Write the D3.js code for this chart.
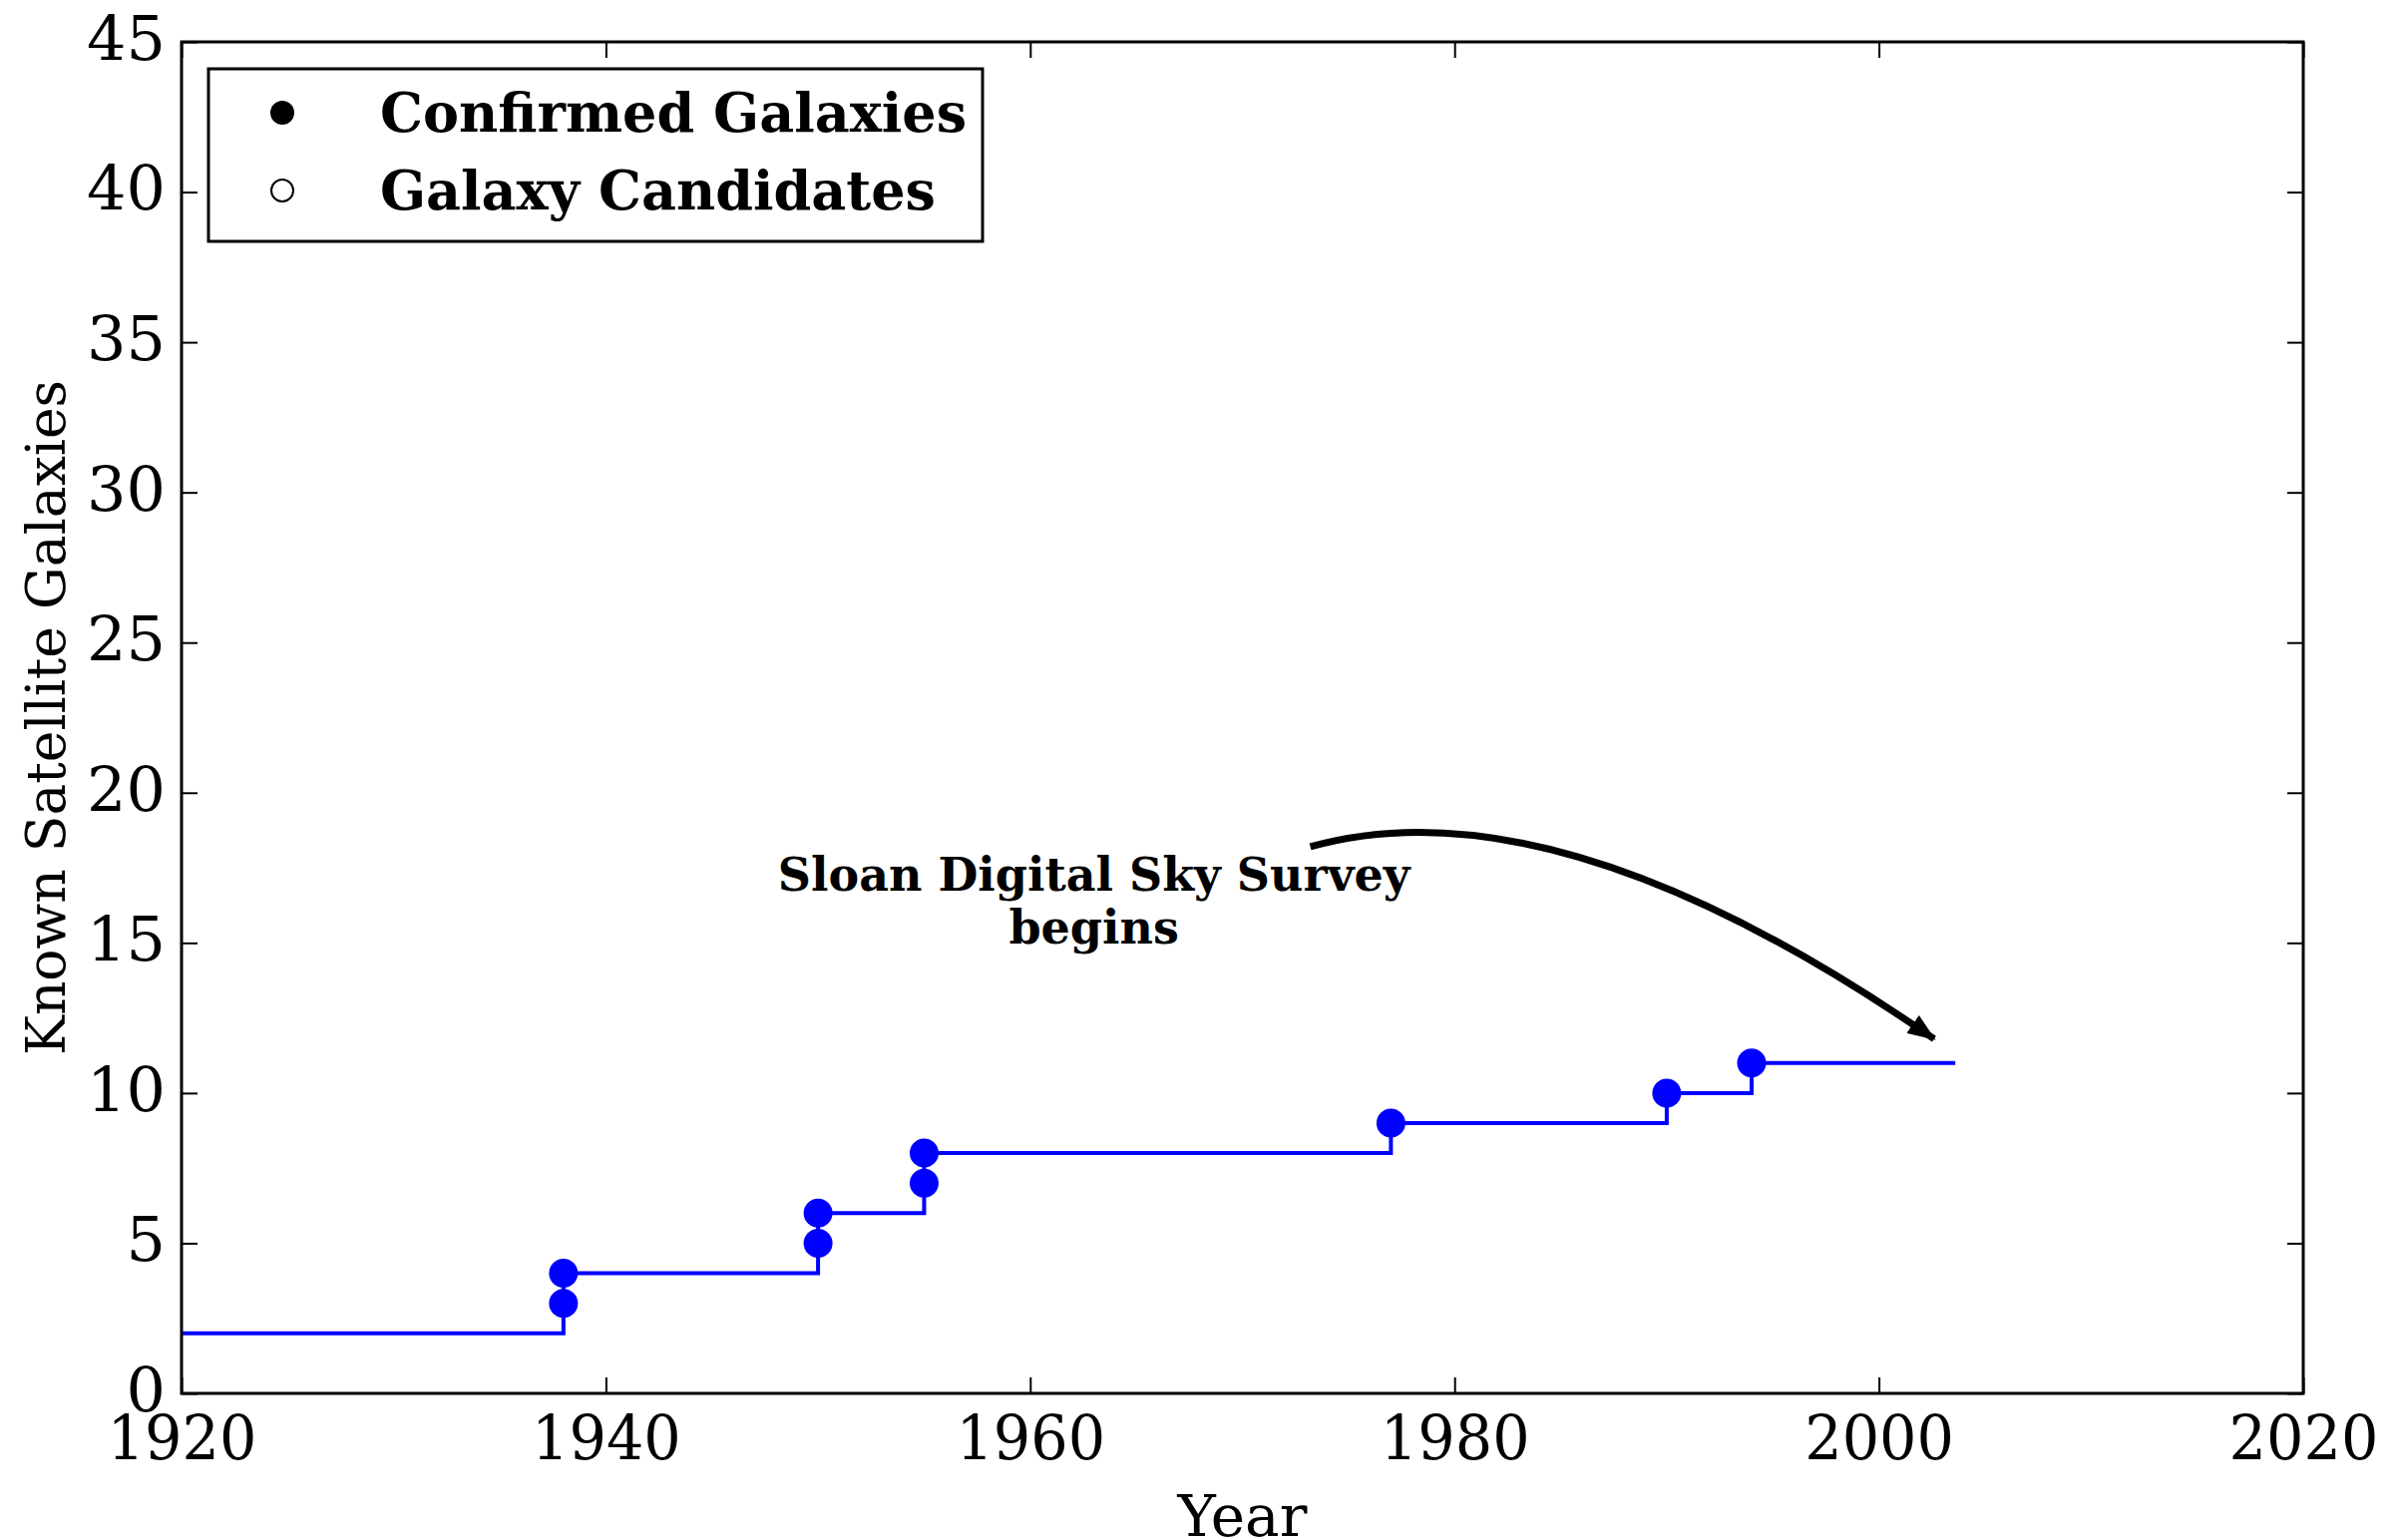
<!DOCTYPE html>
<html>
<head>
<meta charset="utf-8">
<script src="https://cdn.jsdelivr.net/npm/d3@7"></script>
<style>
  body { margin: 0; background: #fff; }
  text { font-family: "DejaVu Serif", serif; }
</style>
</head>
<body>
<div id="chart"></div>
<script>
// step line: running count of known satellites
var stepYears = [1920, 1938, 1950, 1955, 1977, 1990, 1994, 2003.6];
var stepCounts = [2, 4, 6, 8, 9, 10, 11, 11];

// discovery markers
var confirmedYears = [1938, 1938, 1950, 1950, 1955, 1955, 1977, 1990, 1994];
var confirmedCounts = [3, 4, 5, 6, 7, 8, 9, 10, 11];

var xTicks = [1920, 1940, 1960, 1980, 2000, 2020];
var yTicks = [0, 5, 10, 15, 20, 25, 30, 35, 40, 45];
var legendLabels = ["Confirmed Galaxies", "Galaxy Candidates"];
var noteLines = ["Sloan Digital Sky Survey", "begins"];

// annotation anchor points in data units: text, arrow start, bend, tip
var noteAt = [1963.0, 16.75];
var arrowFrom = [1973.2, 18.2];
var arrowBend = [1984.8, 20.5];
var arrowTo = [2002.6, 11.8];

var width = 2410, height = 1544;
var margin = {top: 42, right: 101, bottom: 147, left: 182};

var svg = d3.select("#chart").append("svg")
  .attr("width", width)
  .attr("height", height);

var x = d3.scaleLinear().domain([1920, 2020]).range([margin.left, width - margin.right]);
var y = d3.scaleLinear().domain([0, 45]).range([height - margin.bottom, margin.top]);

var defs = svg.append("defs");
defs.append("marker")
  .attr("id", "head")
  .attr("markerUnits", "userSpaceOnUse")
  .attr("viewBox", "0 0 28 22")
  .attr("refX", 26).attr("refY", 11)
  .attr("markerWidth", 28).attr("markerHeight", 22)
  .attr("orient", "auto")
  .append("path")
  .attr("d", "M0,0 L28,11 L0,22 Z")
  .attr("fill", "#000");

// step line
var pts = stepYears.map(function(d, i) { return [d, stepCounts[i]]; });
var line = d3.line()
  .x(function(d) { return x(d[0]); })
  .y(function(d) { return y(d[1]); })
  .curve(d3.curveStepAfter);

svg.append("path")
  .datum(pts)
  .attr("d", line)
  .attr("fill", "none")
  .attr("stroke", "#0000ff")
  .attr("stroke-width", 4);

svg.selectAll(".dot")
  .data(confirmedYears)
  .enter().append("circle")
  .attr("class", "dot")
  .attr("cx", function(d) { return x(d); })
  .attr("cy", function(d, i) { return y(confirmedCounts[i]); })
  .attr("r", 14.5)
  .attr("fill", "#0000ff");

// axes, ticks inside on all four sides
var tickLen = 16;
var bottomAxis = d3.axisBottom(x).tickValues(xTicks).tickFormat(d3.format("d")).tickSize(-tickLen).tickPadding(tickLen + 2);
var topAxis = d3.axisTop(x).tickValues(xTicks).tickFormat("").tickSize(-tickLen);
var leftAxis = d3.axisLeft(y).tickValues(yTicks).tickFormat(d3.format("d")).tickSize(-tickLen).tickPadding(tickLen);
var rightAxis = d3.axisRight(y).tickValues(yTicks).tickFormat("").tickSize(-tickLen);

function styleAxis(g) {
  g.select(".domain").remove();
  g.selectAll(".tick line").attr("stroke", "#000").attr("stroke-width", 2);
  g.selectAll(".tick text").attr("fill", "#000").style("font-size", "62px");
}

svg.append("g").attr("transform", "translate(0," + y(0) + ")").call(bottomAxis).call(styleAxis)
  .selectAll(".tick text").attr("dy", "0.78em").attr("transform", "scale(0.95,1)")
  .attr("x", function(d) { return 0; });
svg.append("g").attr("transform", "translate(0," + y(45) + ")").call(topAxis).call(styleAxis);
svg.append("g").attr("transform", "translate(" + x(1920) + ",0)").call(leftAxis).call(styleAxis)
  .selectAll(".tick text").attr("dy", "0.28em");
svg.append("g").attr("transform", "translate(" + x(2020) + ",0)").call(rightAxis).call(styleAxis);

svg.append("rect")
  .attr("x", x(1920)).attr("y", y(45))
  .attr("width", x(2020) - x(1920))
  .attr("height", y(0) - y(45))
  .attr("fill", "none")
  .attr("stroke", "#000")
  .attr("stroke-width", 3);

// axis titles
svg.append("text")
  .attr("x", (x(1920) + x(2020)) / 2)
  .attr("y", 1540)
  .attr("text-anchor", "middle")
  .style("font-size", "58px")
  .text("Year");

svg.append("text")
  .attr("transform", "translate(65," + (y(0) + y(45)) / 2 + ") rotate(-90)")
  .attr("text-anchor", "middle")
  .style("font-size", "53.5px")
  .text("Known Satellite Galaxies");

// legend
var legend = svg.append("g");
legend.append("rect")
  .attr("x", 209).attr("y", 69)
  .attr("width", 776).attr("height", 173)
  .attr("fill", "#fff")
  .attr("stroke", "#000")
  .attr("stroke-width", 3);

var item = legend.selectAll(".item")
  .data(legendLabels)
  .enter().append("g")
  .attr("class", "item")
  .attr("transform", function(d, i) { return "translate(0," + (113 + i * 78) + ")"; });

item.append("circle")
  .attr("cx", 283).attr("cy", 0)
  .attr("r", function(d, i) { return i === 0 ? 12 : 11; })
  .attr("fill", function(d, i) { return i === 0 ? "#000" : "#fff"; })
  .attr("stroke", "#000")
  .attr("stroke-width", function(d, i) { return i === 0 ? 0 : 2; });

item.append("text")
  .attr("x", 381).attr("y", 19)
  .style("font-size", "54px")
  .style("font-weight", "bold")
  .text(function(d) { return d; });

// annotation
svg.append("path")
  .attr("d", "M" + x(arrowFrom[0]) + "," + y(arrowFrom[1]) +
    " Q" + x(arrowBend[0]) + "," + y(arrowBend[1]) +
    " " + x(arrowTo[0]) + "," + y(arrowTo[1]))
  .attr("fill", "none")
  .attr("stroke", "#000")
  .attr("stroke-width", 7)
  .attr("marker-end", "url(#head)");

svg.append("g").selectAll("text")
  .data(noteLines)
  .enter().append("text")
  .attr("x", x(noteAt[0]))
  .attr("y", function(d, i) { return y(noteAt[1]) + i * 53; })
  .attr("text-anchor", "middle")
  .style("font-size", "46px")
  .style("font-weight", "bold")
  .text(function(d) { return d; });
</script>
</body>
</html>
